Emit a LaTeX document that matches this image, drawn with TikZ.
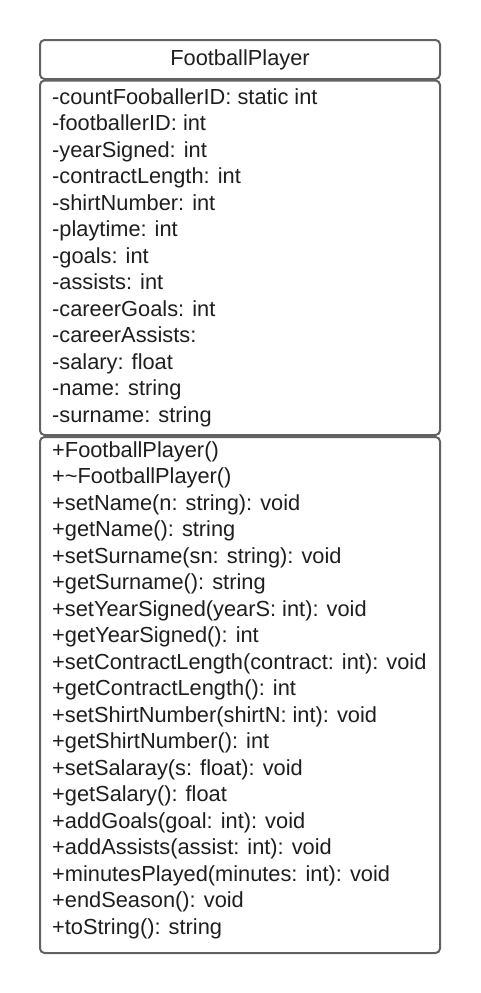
\documentclass[tikz,border=0pt]{standalone}
\usepackage{fontspec}
\setmainfont{Liberation Sans}
\definecolor{frame}{HTML}{626262}
\definecolor{ink}{HTML}{1E1E1E}
\begin{document}
\begin{tikzpicture}[x=1pt,y=-1pt,
  compartment/.style={draw=frame,line width=2pt,rounded corners=4.5pt},
  member/.style={anchor=base west,inner sep=0pt,text=ink,font=\fontsize{21.8}{26}\selectfont},
  classname/.style={anchor=base,inner sep=0pt,text=ink,font=\fontsize{21.8}{26}\selectfont}]
  \useasboundingbox (0,0) rectangle (480,993);
  % class name compartment
  \draw[compartment] (40,40) rectangle (440,79);
  \node[classname] (title) at (240,65.5) {FootballPlayer};
  % attribute compartment
  \draw[compartment] (40,80.5) rectangle (440,435);
  \foreach \t [count=\i from 0] in {
    -countFooballerID: static int,
    -footballerID: int,
    -yearSigned: int,
    -contractLength: int,
    -shirtNumber: int,
    -playtime: int,
    -goals: int,
    -assists: int,
    -careerGoals: int,
    -careerAssists:,
    -salary: float,
    -name: string,
    -surname: string}
    \node[member] (attr-\i) at (52,104+26.5*\i) {\t};
  % operation compartment
  \draw[compartment] (40,437) rectangle (440,953);
  \foreach \t [count=\i from 0] in {
    +FootballPlayer(),
    +\char`~FootballPlayer(),
    +setName(n: string): void,
    +getName(): string,
    +setSurname(sn: string): void,
    +getSurname(): string,
    +setYearSigned(yearS: int): void,
    +getYearSigned(): int,
    +setContractLength(contract: int): void,
    +getContractLength(): int,
    +setShirtNumber(shirtN: int): void,
    +getShirtNumber(): int,
    +setSalaray(s: float): void,
    +getSalary(): float,
    +addGoals(goal: int): void,
    +addAssists(assist: int): void,
    +minutesPlayed(minutes: int): void,
    +endSeason(): void,
    +toString(): string}
    \node[member] (op-\i) at (52,457+26.5*\i) {\t};
\end{tikzpicture}
\end{document}
